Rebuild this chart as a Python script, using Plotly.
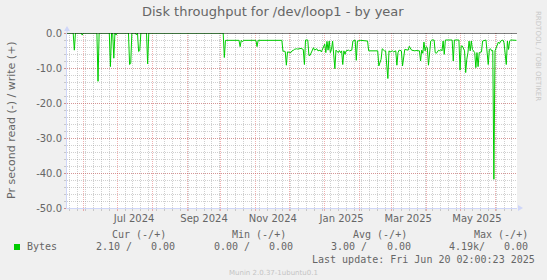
import plotly.graph_objects as go

# ---------------- data ----------------
read_dates = [
    "2024-05-17", "2024-05-23", "2024-05-24", "2024-05-25", "2024-05-30", "2024-05-31", "2024-06-01",
    "2024-06-13", "2024-06-14", "2024-06-15", "2024-06-24", "2024-06-25", "2024-06-26",
    "2024-06-27", "2024-06-28", "2024-06-29", "2024-06-30", "2024-07-01",
    "2024-07-11", "2024-07-12", "2024-07-13", "2024-07-14", "2024-07-17", "2024-07-18", "2024-07-19",
    "2024-07-20", "2024-07-21", "2024-07-22", "2024-07-27", "2024-07-28", "2024-07-29",
    "2024-10-03", "2024-10-04", "2024-10-05", "2024-10-17", "2024-10-18", "2024-10-19", "2024-10-20",
    "2024-10-21", "2024-11-01", "2024-11-02", "2024-11-03", "2024-11-24", "2024-11-25", "2024-11-26",
    "2024-11-27", "2024-11-28", "2024-11-29", "2024-12-02", "2024-12-03", "2024-12-04", "2024-12-05",
    "2024-12-07", "2024-12-08", "2024-12-11", "2024-12-13", "2024-12-14", "2024-12-15", "2024-12-17",
    "2024-12-18", "2024-12-19", "2024-12-21", "2024-12-22", "2024-12-23", "2024-12-25", "2024-12-26",
    "2024-12-28", "2024-12-29", "2024-12-31",
    "2025-01-01", "2025-01-02", "2025-01-03", "2025-01-04", "2025-01-05", "2025-01-06", "2025-01-07",
    "2025-01-08", "2025-01-09", "2025-01-10", "2025-01-11", "2025-01-13", "2025-01-14", "2025-01-15",
    "2025-01-16", "2025-01-17", "2025-01-18", "2025-01-19", "2025-01-20", "2025-01-22", "2025-01-23",
    "2025-01-25", "2025-01-26", "2025-01-28", "2025-01-29", "2025-01-30", "2025-02-02", "2025-02-05",
    "2025-02-08", "2025-02-09", "2025-02-11", "2025-02-14", "2025-02-15", "2025-02-17", "2025-02-18",
    "2025-02-20", "2025-02-21", "2025-02-23", "2025-02-24", "2025-02-26", "2025-02-27", "2025-02-28",
    "2025-03-02", "2025-03-03", "2025-03-05", "2025-03-06", "2025-03-07", "2025-03-08", "2025-03-10",
    "2025-03-11", "2025-03-13", "2025-03-16", "2025-03-17", "2025-03-19", "2025-03-22", "2025-03-23",
    "2025-03-26", "2025-03-27", "2025-03-28", "2025-03-29", "2025-03-30", "2025-03-31",
    "2025-04-01", "2025-04-02", "2025-04-03", "2025-04-04", "2025-04-05", "2025-04-06", "2025-04-08",
    "2025-04-09", "2025-04-10", "2025-04-12", "2025-04-13", "2025-04-14", "2025-04-15", "2025-04-16",
    "2025-04-17", "2025-04-18", "2025-04-24", "2025-04-25", "2025-04-26", "2025-04-30",
    "2025-05-01", "2025-05-02", "2025-05-03", "2025-05-05", "2025-05-06", "2025-05-07", "2025-05-08",
    "2025-05-09", "2025-05-10", "2025-05-11", "2025-05-12", "2025-05-14", "2025-05-15", "2025-05-16",
    "2025-05-17", "2025-05-18", "2025-05-20", "2025-05-21", "2025-05-24", "2025-05-26", "2025-05-27",
    "2025-05-28", "2025-05-29", "2025-05-30", "2025-05-31", "2025-06-01", "2025-06-03", "2025-06-04",
    "2025-06-05", "2025-06-06", "2025-06-08", "2025-06-09", "2025-06-11", "2025-06-12", "2025-06-13",
    "2025-06-14", "2025-06-15", "2025-06-20",
]
read_values = [
    0, 0, -4.9, 0, 0, -0.6, 0,
    0, -13.8, 0, 0, -9.6, 0,
    0, -7.2, 0, -0.6, 0,
    0, -9.0, -8.7, 0, 0, -0.5, 0,
    -5.3, -5.0, 0, 0, -8.8, 0,
    0, -7.0, -2.1, -2.1, -3.9, -2.1, -2.5,
    -2.1, -2.1, -3.9, -2.1, -2.1, -5.2, -5.2,
    -5.3, -9.2, -5.4, -5.6, -5.1, -5.0, -4.7,
    -4.5, -4.6, -4.4, -4.7, -9.0, -2.0, -2.0,
    -6.4, -6.4, -5.1, -4.2, -4.9, -4.5, -5.1,
    -4.9, -5.4, -4.2,
    -3.2, -5.6, -2.4, -4.9, -2.3, -5.6, -4.7,
    -2.3, -5.6, -10.2, -4.9, -5.6, -5.0, -5.6,
    -5.1, -9.0, -5.1, -6.1, -5.1, -4.9, -5.1,
    -4.9, -2.3, -2.0, -7.8, -2.3, -2.1, -2.1,
    -2.3, -5.1, -5.1, -5.1, -4.9, -5.1, -9.4,
    -7.5, -4.5, -5.1, -5.1, -13.0, -5.1, -5.4,
    -5.1, -5.4, -5.1, -9.2, -5.6, -4.9, -5.1,
    -9.4, -4.7, -4.9, -3.8, -4.9, -5.1, -5.0,
    -5.1, -8.0, -4.9, -5.8, -2.6, -5.1,
    -3.9, -4.2, -9.2, -4.7, -2.3, -2.0, -2.0,
    -5.6, -5.8, -4.9, -5.1, -4.7, -5.1, -2.3,
    -6.1, -2.0, -2.0, -8.0, -2.0, -2.0,
    -10.6, -3.7, -3.7, -5.1, -11.3, -7.5, -5.6,
    -2.3, -5.1, -2.3, -4.7, -5.6, -9.9, -5.6,
    -9.6, -5.6, -5.4, -2.3, -2.0, -9.0, -4.7,
    -4.5, -5.1, -5.0, -41.8, -5.1, -3.2, -2.6,
    -3.0, -2.3, -2.0, -2.8, -9.0, -2.3, -4.7,
    -2.3, -2.0, -2.1,
]

x_range = ["2024-05-17 12:00", "2025-06-20 12:00"]
xlabel_dates = ["2024-07-16", "2024-09-16", "2024-11-16", "2025-01-16", "2025-03-16", "2025-05-16"]
xlabel_text = ["Jul 2024", "Sep 2024", "Nov 2024", "Jan 2025", "Mar 2025", "May 2025"]
ytick_vals = [0, -10, -20, -30, -40, -50]
ytick_text = ["0.0", "-10.0", "-20.0", "-30.0", "-40.0", "-50.0"]

series_name = "Bytes"
stat_headers = ["Cur (-/+)", "Min (-/+)", "Avg (-/+)", "Max (-/+)"]
stat_read = ["2.10", "0.00", "3.00", "4.19k"]
stat_write = ["0.00", "0.00", "0.00", "0.00"]

title_text = "Disk throughput for /dev/loop1 - by year"
y_title = "Pr second read (-) / write (+)"
last_update = "Last update: Fri Jun 20 02:00:23 2025"
watermark = "Munin 2.0.37-1ubuntu0.1"
side_mark = "RRDTOOL / TOBI OETIKER"

# ---------------- style ----------------
W, H = 547, 280
L, R, T, B = 67, 30, 33, 72
PW, PH = W - L - R, H - T - B
FONT = "DejaVu Sans"
MONO = "DejaVu Sans Mono"
FC = "#666666"
AXIS = "#CFD6F8"
MGRID = "rgba(222,79,79,0.45)"
GRID = "rgba(143,143,143,0.42)"
GREEN = "#00CC00"


def px(x):
    return (x - L) / PW


def py(y):
    return (H - B - y) / PH


fig = go.Figure()
fig.add_trace(go.Scatter(x=read_dates, y=read_values, mode="lines",
                         line=dict(color=GREEN, width=1), hoverinfo="skip", showlegend=False))

fig.update_layout(
    width=W, height=H, margin=dict(l=L, r=R, t=T, b=B, pad=0),
    paper_bgcolor="#F0F0F0", plot_bgcolor="#FFFFFF", showlegend=False,
    font=dict(family=FONT, size=10, color=FC),
    xaxis=dict(type="date", range=x_range, dtick="M1", tick0="2024-06-01",
               showticklabels=False, showgrid=True, gridcolor=MGRID, griddash="1px,1px", gridwidth=1,
               ticks="outside", ticklen=2, tickcolor=MGRID,
               showline=True, linecolor=AXIS, linewidth=1, zeroline=False,
               minor=dict(dtick=7 * 86400000, tick0="2024-05-20", showgrid=True, gridcolor=GRID,
                          griddash="1px,1px", ticks="outside", ticklen=2, tickcolor=GRID)),
    xaxis2=dict(type="date", overlaying="x", matches="x", anchor="y", side="bottom",
                tickmode="array", tickvals=xlabel_dates, ticktext=xlabel_text,
                showgrid=False, showline=False, zeroline=False, ticks="",
                tickfont=dict(family=FONT, size=10, color=FC), ticklabelstandoff=3),
    yaxis=dict(range=[-50, 0], tickmode="array", tickvals=ytick_vals, ticktext=ytick_text,
               showgrid=True, gridcolor=MGRID, griddash="1px,1px", gridwidth=1,
               ticks="outside", ticklen=2, tickcolor=MGRID,
               showline=True, linecolor=AXIS, linewidth=1, zeroline=False,
               tickfont=dict(family=FONT, size=10, color=FC),
               minor=dict(dtick=2, tick0=0, showgrid=True, gridcolor=GRID, griddash="1px,1px",
                          ticks="outside", ticklen=2, tickcolor=GRID)),
)

# invisible helper so the label axis is drawn
fig.add_trace(go.Scatter(x=xlabel_dates, y=[None] * len(xlabel_dates), xaxis="x2", yaxis="y",
                         mode="lines", hoverinfo="skip", showlegend=False))

shapes = [
    # zero rule
    dict(type="line", xref="paper", yref="y", x0=0, x1=1, y0=0, y1=0,
         line=dict(color="#000000", width=1), layer="above"),
    # axis arrows
    dict(type="path", xref="paper", yref="paper",
         path=f"M {px(64)},{py(31)} L {px(67)},{py(26)} L {px(70)},{py(31)} Z",
         fillcolor=AXIS, line=dict(width=0), layer="above"),
    dict(type="line", xref="paper", yref="paper", x0=px(67), x1=px(67), y0=py(33), y1=py(30),
         line=dict(color=AXIS, width=1), layer="above"),
    dict(type="path", xref="paper", yref="paper",
         path=f"M {px(518)},{py(205)} L {px(523)},{py(208)} L {px(518)},{py(211)} Z",
         fillcolor=AXIS, line=dict(width=0), layer="above"),
    # legend swatch
    dict(type="rect", xref="paper", yref="paper", x0=px(14), x1=px(20), y0=py(250), y1=py(244),
         fillcolor=GREEN, line=dict(width=0)),
]
fig.update_layout(shapes=shapes)


def ann(text, x, y, size=10, family=FONT, color=FC, xanchor="left", angle=0):
    fig.add_annotation(text=text, x=px(x), y=py(y), xref="paper", yref="paper",
                       xanchor=xanchor, yanchor="middle", showarrow=False, textangle=angle,
                       font=dict(family=family, size=size, color=color), borderpad=0)


ann(title_text, 273, 12, size=13, xanchor="center")
ann(y_title, 11, 120, size=11, xanchor="center", angle=-90)
ann(side_mark, 538, 56, size=7, color="#c8c8c8", xanchor="center", angle=90)

head_x = [111, 231, 352, 473]
read_x = [95, 213, 330, 448]
write_x = [150, 268, 386, 503]
for i in range(4):
    ann(stat_headers[i], head_x[i], 234, family=MONO)
    ann(stat_read[i].ljust(5) + "/", read_x[i], 246.5, family=MONO)
    ann(stat_write[i], write_x[i], 246.5, family=MONO)
ann(series_name, 26, 246.5, family=MONO)
ann(last_update, 311, 259.3, family=MONO)
ann(watermark, 273, 272.6, size=7, color="#c4c4c4", xanchor="center")

fig.write_html("out.html")
